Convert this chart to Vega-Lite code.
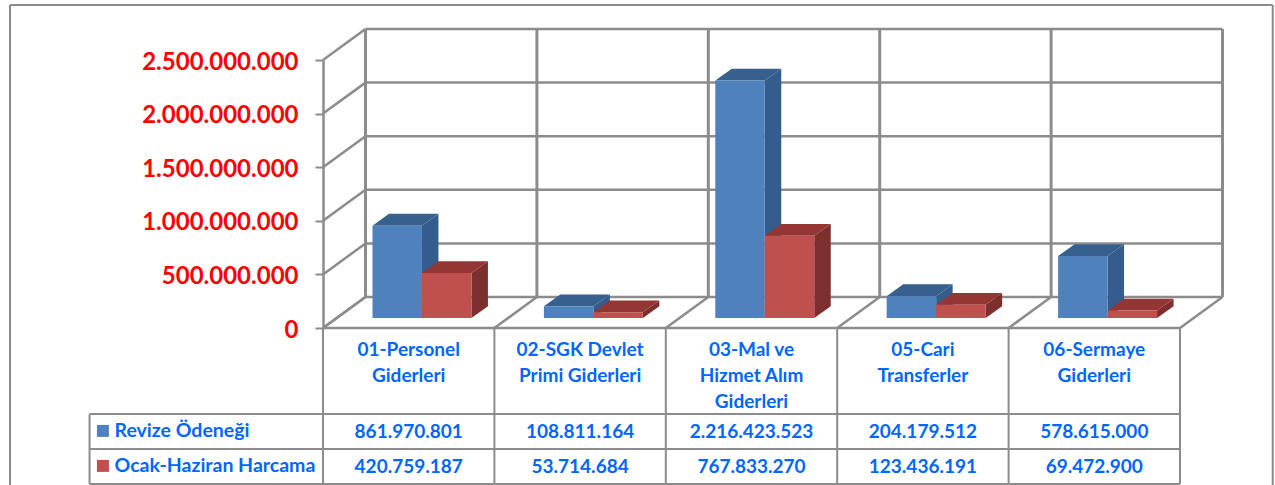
{
"$schema":"https://vega.github.io/schema/vega-lite/v6.json",
"width":857,"height":268,
"autosize":"none",
"padding":{"left":323,"top":60,"right":95,"bottom":157},
"background":"white",
"datasets":{
"rows":[
{"kategori":"01-Personel Giderleri","seri":"Revize Ödeneği","deger":861970801},
{"kategori":"02-SGK Devlet Primi Giderleri","seri":"Revize Ödeneği","deger":108811164},
{"kategori":"03-Mal ve Hizmet Alım Giderleri","seri":"Revize Ödeneği","deger":2216423523},
{"kategori":"05-Cari Transferler","seri":"Revize Ödeneği","deger":204179512},
{"kategori":"06-Sermaye Giderleri","seri":"Revize Ödeneği","deger":578615000},
{"kategori":"01-Personel Giderleri","seri":"Ocak-Haziran Harcama","deger":420759187},
{"kategori":"02-SGK Devlet Primi Giderleri","seri":"Ocak-Haziran Harcama","deger":53714684},
{"kategori":"03-Mal ve Hizmet Alım Giderleri","seri":"Ocak-Haziran Harcama","deger":767833270},
{"kategori":"05-Cari Transferler","seri":"Ocak-Haziran Harcama","deger":123436191},
{"kategori":"06-Sermaye Giderleri","seri":"Ocak-Haziran Harcama","deger":69472900}
],
"ticks":[{"t":0},{"t":500000000},{"t":1000000000},{"t":1500000000},{"t":2000000000},{"t":2500000000}],
"bounds":[{"b":0},{"b":1},{"b":2},{"b":3},{"b":4},{"b":5}],
"names":[
{"i":0,"ad":"01-Personel\nGiderleri"},
{"i":1,"ad":"02-SGK Devlet\nPrimi Giderleri"},
{"i":2,"ad":"03-Mal ve\nHizmet Alım\nGiderleri"},
{"i":3,"ad":"05-Cari\nTransferler"},
{"i":4,"ad":"06-Sermaye\nGiderleri"}
],
"series":[{"seri":"Revize Ödeneği","s":0},{"seri":"Ocak-Haziran Harcama","s":1}],
"rowlines":[{"r":2.46},{"r":3.46},{"r":4.46}],
"one":[{"a":1}]
},
"layer":[
{"layer":[
{"data":{"name":"one"},"mark":{"type":"rule","color":"#8a8a8a","strokeWidth":2},
 "encoding":{"x":{"datum":-1.826,"type":"quantitative","scale":{"domain":[0,5],"nice":false,"zero":false},"axis":null},"x2":{"datum":5.541},
 "y":{"datum":3013000000,"type":"quantitative","scale":{"domain":[0,2500000000],"nice":false},
  "axis":{"title":null,"grid":false,"values":[0,500000000,1000000000,1500000000,2000000000,2500000000],
   "labelExpr":"join(split(format(datum.value,','),','),'.')",
   "labelFont":"Lato","labelFontWeight":"bold","labelFontSize":24,"labelColor":"#ff0000","labelPadding":17,"labelOffset":2,
   "tickSize":8,"tickWidth":2,"tickColor":"#8c8c8c","domainColor":"#8c8c8c","domainWidth":2.5,"labelOverlap":false,"labelBound":false,"labelFlush":false}},"y2":{"datum":3013000000}}},
{"data":{"name":"one"},"mark":{"type":"rule","color":"#8a8a8a","strokeWidth":2},
 "encoding":{"x":{"datum":-1.826,"type":"quantitative","scale":{"domain":[0,5],"nice":false,"zero":false},"axis":null},
 "y":{"datum":3013000000,"type":"quantitative","scale":{"domain":[0,2500000000],"nice":false}},"y2":{"datum":-1470000000}}},
{"data":{"name":"one"},"mark":{"type":"rule","color":"#8a8a8a","strokeWidth":2},
 "encoding":{"x":{"datum":5.541,"type":"quantitative","scale":{"domain":[0,5],"nice":false,"zero":false},"axis":null},
 "y":{"datum":3013000000,"type":"quantitative","scale":{"domain":[0,2500000000],"nice":false}},"y2":{"datum":-1470000000}}},
{"data":{"name":"ticks"},"transform":[{"calculate":"datum.t+289000000","as":"tb"}],
 "mark":{"type":"rule","color":"#8c8c8c","strokeWidth":2.5},
 "encoding":{"x":{"datum":0.248,"type":"quantitative","scale":{"domain":[0,5],"nice":false,"zero":false},"axis":null},"x2":{"datum":5.248},
 "y":{"field":"tb","type":"quantitative","scale":{"domain":[0,2500000000],"nice":false}},"y2":{"field":"tb"}}},
{"data":{"name":"ticks"},"transform":[{"calculate":"datum.t+289000000","as":"tb"}],
 "mark":{"type":"rule","color":"#8c8c8c","strokeWidth":2.5},
 "encoding":{"x":{"datum":0,"type":"quantitative","scale":{"domain":[0,5],"nice":false,"zero":false},"axis":null},"x2":{"datum":0.248},
 "y":{"field":"t","type":"quantitative","scale":{"domain":[0,2500000000],"nice":false}},"y2":{"field":"tb"}}},
{"data":{"name":"bounds"},"transform":[{"calculate":"datum.b+0.248","as":"bb"}],
 "mark":{"type":"rule","color":"#8c8c8c","strokeWidth":3},
 "encoding":{"x":{"field":"bb","type":"quantitative","scale":{"domain":[0,5],"nice":false,"zero":false},"axis":null},
 "y":{"datum":289000000,"type":"quantitative","scale":{"domain":[0,2500000000],"nice":false}},"y2":{"datum":2789000000}}},
{"data":{"name":"bounds"},"transform":[{"calculate":"datum.b+0.248","as":"bb"}],
 "mark":{"type":"rule","color":"#8c8c8c","strokeWidth":2.5},
 "encoding":{"x":{"field":"b","type":"quantitative","scale":{"domain":[0,5],"nice":false,"zero":false},"axis":null},"x2":{"field":"bb"},
 "y":{"datum":0,"type":"quantitative","scale":{"domain":[0,2500000000],"nice":false}},"y2":{"datum":289000000}}},
{"data":{"name":"one"},"mark":{"type":"rule","color":"#8c8c8c","strokeWidth":2.5},
 "encoding":{"x":{"datum":0,"type":"quantitative","scale":{"domain":[0,5],"nice":false,"zero":false},"axis":null},"x2":{"datum":5},
 "y":{"datum":0,"type":"quantitative","scale":{"domain":[0,2500000000],"nice":false}},"y2":{"datum":0}}},
{"data":{"name":"rows"},
 "transform":[
  {"calculate":"indexof(['01-Personel Giderleri','02-SGK Devlet Primi Giderleri','03-Mal ve Hizmet Alım Giderleri','05-Cari Transferler','06-Sermaye Giderleri'],datum.kategori)","as":"i"},
  {"calculate":"datum.seri=='Revize Ödeneği'?0:1","as":"s"},
  {"calculate":"datum.i+0.2887+datum.s*0.2887+0.2887","as":"xb"},
  {"calculate":"[0,1]","as":"d"},{"flatten":["d"]},
  {"calculate":"datum.xb+datum.d*0.0962","as":"xs"},
  {"calculate":"datum.deger+93000000+datum.d*110000000","as":"yt"},
  {"calculate":"93000000+datum.d*110000000","as":"yb"}],
 "mark":{"type":"area","orient":"vertical"},
 "encoding":{"x":{"field":"xs","type":"quantitative","scale":{"domain":[0,5],"nice":false,"zero":false},"axis":null},
 "y":{"field":"yt","type":"quantitative","scale":{"domain":[0,2500000000],"nice":false}},"y2":{"field":"yb"},
 "detail":[{"field":"kategori"},{"field":"seri"}],
 "fill":{"condition":{"test":"datum.s==0","value":"#345C8C"},"value":"#7C2F2D"}}},
{"data":{"name":"rows"},
 "transform":[
  {"calculate":"indexof(['01-Personel Giderleri','02-SGK Devlet Primi Giderleri','03-Mal ve Hizmet Alım Giderleri','05-Cari Transferler','06-Sermaye Giderleri'],datum.kategori)","as":"i"},
  {"calculate":"datum.seri=='Revize Ödeneği'?0:1","as":"s"},
  {"calculate":"datum.i+0.2887+datum.s*0.2887","as":"xa"},
  {"calculate":"datum.deger+93000000","as":"v"},
  {"calculate":"[0,1,2,3]","as":"k"},{"flatten":["k"]},
  {"calculate":"datum.xa+(datum.k==0?0:datum.k==1?0.0962:datum.k==2?0.2887:0.3849)","as":"xt"},
  {"calculate":"datum.k==3?datum.v+110000000:datum.v","as":"y1"},
  {"calculate":"datum.k==0?datum.v:datum.v+110000000","as":"y2v"}],
 "mark":{"type":"area","orient":"vertical"},
 "encoding":{"x":{"field":"xt","type":"quantitative","scale":{"domain":[0,5],"nice":false,"zero":false},"axis":null},
 "y":{"field":"y1","type":"quantitative","scale":{"domain":[0,2500000000],"nice":false}},"y2":{"field":"y2v"},
 "detail":[{"field":"kategori"},{"field":"seri"}],
 "fill":{"condition":{"test":"datum.s==0","value":"#37608F"},"value":"#943633"}}},
{"data":{"name":"rows"},
 "transform":[
  {"calculate":"indexof(['01-Personel Giderleri','02-SGK Devlet Primi Giderleri','03-Mal ve Hizmet Alım Giderleri','05-Cari Transferler','06-Sermaye Giderleri'],datum.kategori)","as":"i"},
  {"calculate":"datum.seri=='Revize Ödeneği'?0:1","as":"s"},
  {"calculate":"datum.i+0.2887+datum.s*0.2887","as":"xa"},
  {"calculate":"datum.xa+0.2887","as":"xb"},
  {"calculate":"datum.deger+93000000","as":"v"},
  {"calculate":"93000000","as":"z"}],
 "mark":{"type":"rect"},
 "encoding":{"x":{"field":"xa","type":"quantitative","scale":{"domain":[0,5],"nice":false,"zero":false},"axis":null},"x2":{"field":"xb"},
 "y":{"field":"v","type":"quantitative","scale":{"domain":[0,2500000000],"nice":false}},"y2":{"field":"z"},
 "fill":{"condition":{"test":"datum.s==0","value":"#4F81BD"},"value":"#C0504D"}}}
]},
{"layer":[
{"data":{"name":"rowlines"},"mark":{"type":"rule","color":"#8c8c8c","strokeWidth":2},
 "encoding":{"x":{"datum":-1.362,"type":"quantitative","scale":{"domain":[0,5],"nice":false,"zero":false},"axis":null},"x2":{"datum":5},
 "y":{"field":"r","type":"quantitative","scale":{"domain":[0,4.486],"range":[268,425],"nice":false,"zero":false},"axis":null},"y2":{"field":"r"}}},
{"data":{"name":"bounds"},"mark":{"type":"rule","color":"#8c8c8c","strokeWidth":2},
 "encoding":{"x":{"field":"b","type":"quantitative","scale":{"domain":[0,5],"nice":false,"zero":false},"axis":null},
 "y":{"datum":0,"type":"quantitative","scale":{"domain":[0,4.486],"range":[268,425],"nice":false,"zero":false},"axis":null},"y2":{"datum":4.46}}},
{"data":{"name":"one"},"mark":{"type":"rule","color":"#8c8c8c","strokeWidth":2},
 "encoding":{"x":{"datum":-1.362,"type":"quantitative","scale":{"domain":[0,5],"nice":false,"zero":false},"axis":null},
 "y":{"datum":2.46,"type":"quantitative","scale":{"domain":[0,4.486],"range":[268,425],"nice":false,"zero":false},"axis":null},"y2":{"datum":4.46}}},
{"data":{"name":"names"},"transform":[{"calculate":"datum.i+0.5","as":"xc"}],
 "mark":{"type":"text","font":"Lato","fontWeight":"bold","fontSize":19,"color":"#0066FF","align":"center","baseline":"top","lineBreak":"\n","lineHeight":26},
 "encoding":{"x":{"field":"xc","type":"quantitative","scale":{"domain":[0,5],"nice":false,"zero":false},"axis":null},
 "y":{"datum":0.37,"type":"quantitative","scale":{"domain":[0,4.486],"range":[268,425],"nice":false,"zero":false},"axis":null},
 "text":{"field":"ad"}}},
{"data":{"name":"rows"},
 "transform":[
  {"calculate":"indexof(['01-Personel Giderleri','02-SGK Devlet Primi Giderleri','03-Mal ve Hizmet Alım Giderleri','05-Cari Transferler','06-Sermaye Giderleri'],datum.kategori)+0.5","as":"xc"},
  {"calculate":"datum.seri=='Revize Ödeneği'?2.98:3.98","as":"r"},
  {"calculate":"join(split(format(datum.deger,','),','),'.')","as":"etiket"}],
 "mark":{"type":"text","font":"Lato","fontWeight":"bold","fontSize":19,"color":"#0066FF","align":"center","baseline":"middle"},
 "encoding":{"x":{"field":"xc","type":"quantitative","scale":{"domain":[0,5],"nice":false,"zero":false},"axis":null},
 "y":{"field":"r","type":"quantitative","scale":{"domain":[0,4.486],"range":[268,425],"nice":false,"zero":false},"axis":null},
 "text":{"field":"etiket"}}},
{"data":{"name":"series"},"transform":[{"calculate":"datum.s+2.94","as":"r"}],
 "mark":{"type":"point","shape":"square","filled":true,"size":144,"opacity":1},
 "encoding":{"x":{"datum":-1.284,"type":"quantitative","scale":{"domain":[0,5],"nice":false,"zero":false},"axis":null},
 "y":{"field":"r","type":"quantitative","scale":{"domain":[0,4.486],"range":[268,425],"nice":false,"zero":false},"axis":null},
 "fill":{"condition":{"test":"datum.s==0","value":"#4F81BD"},"value":"#C0504D"}}},
{"data":{"name":"series"},"transform":[{"calculate":"datum.s+2.94","as":"r"}],
 "mark":{"type":"text","font":"Lato","fontWeight":"bold","fontSize":19.5,"color":"#0066FF","align":"left","baseline":"middle"},
 "encoding":{"x":{"datum":-1.2164,"type":"quantitative","scale":{"domain":[0,5],"nice":false,"zero":false},"axis":null},
 "y":{"field":"r","type":"quantitative","scale":{"domain":[0,4.486],"range":[268,425],"nice":false,"zero":false},"axis":null},
 "text":{"field":"seri"}}}
]}
],
"resolve":{"scale":{"y":"independent"}},
"config":{"view":{"stroke":null}}
}
